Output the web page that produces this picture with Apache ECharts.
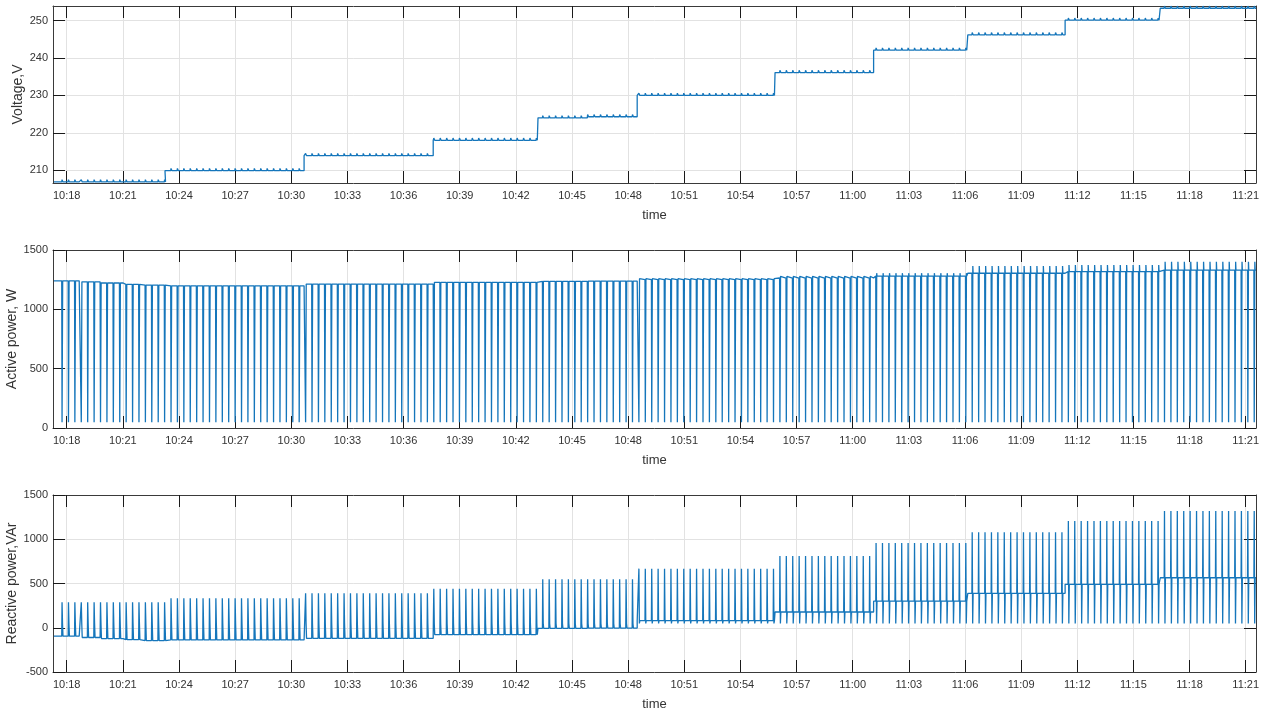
<!DOCTYPE html>
<html>
<head>
<meta charset="utf-8">
<script src="https://cdn.jsdelivr.net/npm/echarts@6/dist/echarts.min.js"></script>
<style>
  html, body { margin: 0; padding: 0; background: #ffffff; }
  #chart { width: 1275px; height: 714px; }
</style>
</head>
<body>
<div id="chart"></div>
<script>
// Time values are seconds after 10:17:00.
const T_MIN = 16;      // 10:17:16
const T_MAX = 3873;    // 11:21:33
const timeTicks = [60, 240, 420, 600, 780, 960, 1140, 1320, 1500, 1680, 1860, 2040,
                   2220, 2400, 2580, 2760, 2940, 3120, 3300, 3480, 3660, 3840];

// Supply-voltage steps and the load levels measured during each step
const segStart     = [19, 100, 167, 241, 300, 375, 821, 1235, 1571, 1729, 1889, 2331, 2647, 2949, 3261, 3566];
const voltage      = [206.9, 206.9, 206.9, 206.9, 206.9, 209.9, 213.9, 218.0, 224.0, 224.3, 230.0, 236.1, 242.1, 246.2, 250.1, 253.3];
const activeLevel  = [1240, 1232, 1222, 1211, 1204, 1198, 1213, 1228, 1236, 1238, 1250, 1264, 1280, 1304, 1318, 1331];
const activePeak   = [1240, 1232, 1222, 1211, 1204, 1198, 1213, 1228, 1236, 1238, 1258, 1278, 1305, 1365, 1374, 1400];
const reactiveBase = [-95, -110, -122, -135, -145, -138, -120, -78, -6, -4, 80, 178, 300, 389, 491, 565];
const reactivePeak = [288, 288, 288, 288, 288, 333, 389, 440, 547, 547, 668, 811, 958, 1079, 1206, 1319];

// Switching cycle of the load (off-pulse every ~20.5 s)
const PULSE_FIRST = 44;
const PULSE_PERIOD = 20.55;
const activeOff = 48;
const reactiveOff = 48;
const voltageRise = 0.6;

const pulseTimes = [];
for (let t = PULSE_FIRST; t < T_MAX - 2; t += PULSE_PERIOD) pulseTimes.push(Math.round(t * 10) / 10);

function buildTrace(levelOf, pulse) {
  const pts = [[segStart[0], levelOf(0)]];
  const events = segStart.slice(1).map((t, i) => ({ t: t, step: i + 1 }))
    .concat(pulseTimes.map(t => ({ t: t, step: -1 })))
    .sort((a, b) => a.t - b.t);
  let seg = 0;
  for (const e of events) {
    if (e.step >= 0) {
      pts.push([e.t, levelOf(seg)]);
      seg = e.step;
      pts.push([e.t, levelOf(seg)]);
    } else {
      pulse(pts, e.t, seg);
    }
  }
  pts.push([T_MAX, levelOf(seg)]);
  return pts;
}

const voltageData = buildTrace(s => voltage[s], (p, t, s) => {
  p.push([t, voltage[s]], [t + 1, voltage[s] + voltageRise], [t + 3, voltage[s] + voltageRise], [t + 4, voltage[s]]);
});
const activeData = buildTrace(s => activeLevel[s], (p, t, s) => {
  p.push([t, activeLevel[s]], [t + 1, activeOff], [t + 2.5, activeOff], [t + 3, activePeak[s]], [t + 4, activeLevel[s]]);
});
const reactiveData = buildTrace(s => reactiveBase[s], (p, t, s) => {
  p.push([t, reactiveBase[s]], [t + 1, reactivePeak[s]], [t + 2.5, reactiveOff], [t + 4, reactiveBase[s]]);
});

function clock(t) {
  const m = 17 + Math.round(t / 60);
  return (10 + Math.floor(m / 60)) + ':' + String(m % 60).padStart(2, '0');
}

const FONT = 'Liberation Sans, Arial, sans-serif';
const TEXT = '#333333';
const AXIS = '#3a3a3a';
const GRID = '#e2e2e2';
const LINE = '#1576bb';

const panels = [
  { top: 6,   height: 177, min: 206.6, max: 253.9, ticks: [210, 220, 230, 240, 250], name: 'Voltage,V', gap: 28, data: voltageData },
  { top: 250, height: 178, min: 0,     max: 1500,  ticks: [0, 500, 1000, 1500], name: 'Active power, W', gap: 34, data: activeData },
  { top: 495, height: 177, min: -500,  max: 1500,  ticks: [-500, 0, 500, 1000, 1500], name: 'Reactive power,VAr', gap: 34, data: reactiveData }
];

const grid = [], xAxis = [], yAxis = [], series = [];
panels.forEach((p, i) => {
  grid.push({ left: 53, right: 19, top: p.top, height: p.height, containLabel: false, outerBoundsMode: 'none' });
  const xCommon = {
    type: 'value', gridIndex: i, min: T_MIN, max: T_MAX,
    axisLine: { show: true, onZero: false, lineStyle: { color: AXIS, width: 1 } },
    axisTick: { show: true, inside: true, length: 12, customValues: timeTicks, lineStyle: { color: '#1a1a1a', width: 1 } }
  };
  xAxis.push(Object.assign({}, xCommon, {
    position: 'bottom',
    axisLabel: { show: true, customValues: timeTicks, formatter: v => clock(v), margin: 7,
                 color: TEXT, fontFamily: FONT, fontSize: 11 },
    splitLine: { show: true, lineStyle: { color: GRID, width: 1 } },
    name: 'time', nameLocation: 'middle', nameGap: 26, nameMoveOverlap: false,
    nameTextStyle: { color: TEXT, fontFamily: FONT, fontSize: 13 }
  }));
  xAxis.push(Object.assign({}, xCommon, {
    position: 'top', axisLabel: { show: false }, splitLine: { show: false }
  }));
  const yCommon = {
    type: 'value', gridIndex: i, min: p.min, max: p.max,
    axisLine: { show: true, onZero: false, lineStyle: { color: AXIS, width: 1 } },
    axisTick: { show: true, inside: true, length: 12, customValues: p.ticks, lineStyle: { color: '#1a1a1a', width: 1 } }
  };
  yAxis.push(Object.assign({}, yCommon, {
    position: 'left',
    axisLabel: { show: true, customValues: p.ticks, formatter: v => String(v), margin: 5,
                 color: TEXT, fontFamily: FONT, fontSize: 11 },
    splitLine: { show: true, lineStyle: { color: GRID, width: 1 } },
    name: p.name, nameLocation: 'middle', nameGap: p.gap, nameRotate: 90, nameMoveOverlap: false,
    nameTextStyle: { color: TEXT, fontFamily: FONT, fontSize: 14 }
  }));
  yAxis.push(Object.assign({}, yCommon, {
    position: 'right', axisLabel: { show: false }, splitLine: { show: false }
  }));
  series.push({
    type: 'line', xAxisIndex: 2 * i, yAxisIndex: 2 * i, data: p.data,
    showSymbol: false, symbol: 'none', silent: true,
    lineStyle: { color: LINE, width: 1.3 }
  });
});

const chart = echarts.init(document.getElementById('chart'), null, { renderer: 'canvas' });
chart.setOption({ animation: false, backgroundColor: '#ffffff', grid, xAxis, yAxis, series });
</script>
</body>
</html>
